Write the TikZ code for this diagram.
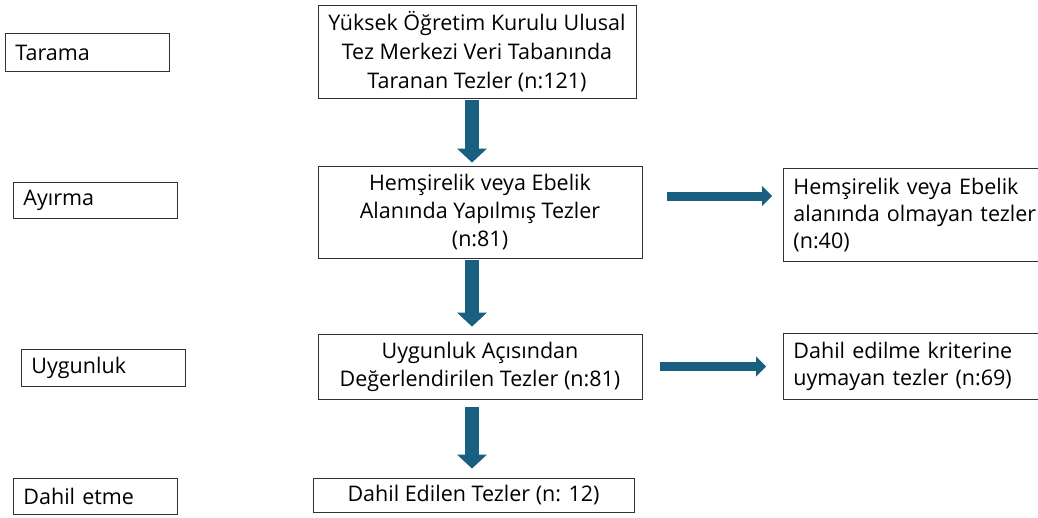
\documentclass[tikz,border=0pt]{standalone}
\usepackage{fontspec}
\setmainfont{Open Sans}
\usetikzlibrary{arrows.meta, positioning}
\definecolor{arrowblue}{HTML}{185F80}
\tikzset{>=latex}
\tikzset{
  stagebox/.style = {draw = black!80, line width = 0.9pt, anchor = north west, text width = 144pt, align = left, inner xsep = 10pt, inner ysep = 0pt, minimum height = 36pt, font = \fontsize{21.5}{28}\selectfont},
  mainbox/.style = {draw = black!80, line width = 0.9pt, align = center, inner xsep = 4pt, inner ysep = 0pt, font = \fontsize{21.5}{28}\selectfont},
  sidebox/.style = {draw = black!80, line width = 0.9pt, anchor = north west, text width = 250pt, align = left, inner xsep = 10pt, inner ysep = 0pt, font = \fontsize{21.5}{27}\selectfont},
  downarrow/.style = {arrowblue, line width = 14pt, -{Triangle[line width = 0pt, width = 30pt, length = 14pt]}},
  sidearrow/.style = {arrowblue, line width = 9pt, -{Triangle[line width = 0pt, width = 20pt, length = 10pt]}}
}

\begin{document}
\begin{tikzpicture}[x = 1pt, y = -1pt]
\useasboundingbox (0,0) rectangle (1038,517);

\node[stagebox, minimum height = 38pt] (tarama) at (5,33) {Tarama};
\node[stagebox] (ayirma) at (13,182) {Ayırma};
\node[stagebox, minimum height = 37pt] (uygunluk) at (21,349) {Uygunluk};
\node[stagebox] (dahiletme) at (13,478) {Dahil etme};

\node[mainbox, minimum width = 318pt, minimum height = 93pt, font = \fontsize{21.5}{29}\selectfont] (taranan) at (477,51.5) {Yüksek Öğretim Kurulu Ulusal\\Tez Merkezi Veri Tabanında\\Taranan Tezler (n:121)};
\node[mainbox, minimum width = 324pt, minimum height = 92pt] (alan) at (480,212) {Hemşirelik veya Ebelik\\Alanında Yapılmış Tezler\\(n:81)};
\node[mainbox, minimum width = 324pt, minimum height = 65pt] (uygun) at (480,366.5) {Uygunluk Açısından\\Değerlendirilen Tezler (n:81)};
\node[mainbox, minimum width = 321pt, minimum height = 34pt] (dahil) at (473.5,495) {Dahil Edilen Tezler (n: 12)};

\node[sidebox, minimum height = 93pt] (olmayan) at (783,168) {Hemşirelik veya Ebelik\\alanında olmayan tezler\\(n:40)};
\node[sidebox, minimum height = 66pt] (uymayan) at (783,333) {Dahil edilme kriterine\\uymayan tezler (n:69)};

\draw[downarrow, shorten <= 2pt, shorten >= 3pt] ([xshift = -5pt]taranan.south) -- ([xshift = -5pt]taranan.south |- alan.north);
\draw[downarrow, shorten <= 2pt, shorten >= 7pt] ([xshift = -8pt]alan.south) -- ([xshift = -8pt]alan.south |- uygun.north);
\draw[downarrow, shorten <= 8pt, shorten >= 9pt] ([xshift = -8pt]uygun.south) -- ([xshift = -8pt]uygun.south |- dahil.north);

\draw[sidearrow, shorten <= 25pt, shorten >= 11pt] ([yshift = 16pt]alan.east) -- ([yshift = 16pt]alan.east -| olmayan.west);
\draw[sidearrow, shorten <= 18pt, shorten >= 17pt] (uygun.east) -- (uygun.east -| uymayan.west);
\end{tikzpicture}
\end{document}
